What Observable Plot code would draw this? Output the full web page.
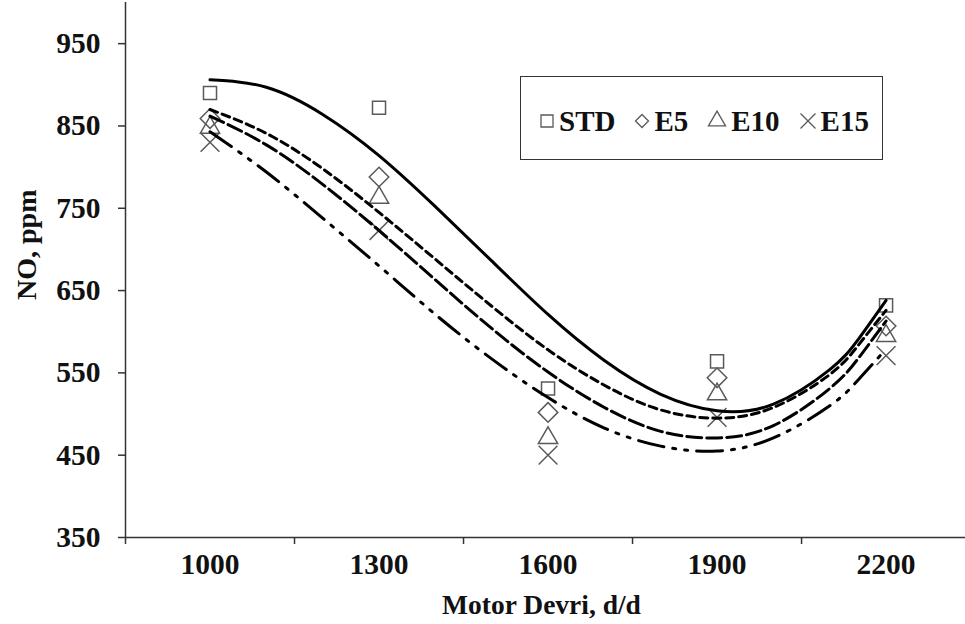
<!DOCTYPE html>
<html>
<head>
<meta charset="utf-8">
<script src="https://cdn.jsdelivr.net/npm/d3@7"></script>
<script src="https://cdn.jsdelivr.net/npm/@observablehq/plot@0.6"></script>
<style>
  html, body { margin: 0; padding: 0; background: #fff; }
  #wrap { position: relative; width: 965px; height: 624px; overflow: hidden;
          font-family: "Liberation Serif", "Times New Roman", serif; font-weight: bold; }
  #legend { position: absolute; left: 520px; top: 76px; width: 363px; height: 84px;
            box-sizing: border-box; border: 1.5px solid #333; background: #fff;
            display: flex; align-items: center; padding: 6px 0 0 19px; }
  .item { display: flex; align-items: center; margin-right: 20px; }
  .item svg { display: block; margin-right: 5px; overflow: visible; }
  .item span { font-size: 29px; line-height: 1; color: #111; }
</style>
</head>
<body>
<div id="wrap"><div id="chart"></div><div id="legend"></div></div>
<script>
// Measured points (NO, ppm) at each engine speed
const rpm = [1000, 1300, 1600, 1900, 2200];
const STD = [890, 872, 531, 564, 632];
const E5  = [859, 788, 502, 544, 607];
const E10 = [848, 763, 471, 524, 595];
const E15 = [830, 723, 450, 496, 571];

// Trend lines
const fitRpm = [1000, 1100, 1200, 1300, 1400, 1500, 1600, 1700, 1800, 1900, 2000, 2100, 2150, 2200];
const fitSTD = [906, 897, 864, 814, 752, 686, 621, 565, 524, 504, 512, 554, 590, 638];
const fitE5  = [870, 841, 798, 745, 688, 631, 578, 535, 505, 495, 508, 548, 583, 626];
const fitE10 = [862, 827, 779, 723, 663, 604, 551, 508, 479, 471, 486, 531, 567, 613];
const fitE15 = [843, 794, 738, 680, 621, 567, 520, 483, 461, 455, 471, 510, 541, 579];

const seriesNames = ["STD", "E5", "E10", "E15"];
const yTicks = [350, 450, 550, 650, 750, 850, 950];
const xBoundaryTicks = [850, 1150, 1450, 1750, 2050];

const measured = [STD, E5, E10, E15];
const fits = [fitSTD, fitE5, fitE10, fitE15];

const symbols = ["square2", "diamond2", "triangle2", "times"];
const symR = [8.3, 8.8, 9.2, 8.6];
const dashes = [null, "8,5", "15,5", "26,9,3,9,3,9"];
const lineW = [3, 3, 3, 3];

const pointRows = seriesNames.map((s, i) => rpm.map((r, j) => ({series: s, rpm: r, no: measured[i][j]})));
const fitRows = seriesNames.map((s, i) => fitRpm.map((r, j) => ({series: s, rpm: r, no: fits[i][j]})));

const markerColor = "#5a5a5a";
const axisColor = "#333";

const marks = [];
pointRows.forEach((rows, i) => {
  marks.push(Plot.dot(rows, {x: "rpm", y: "no", symbol: symbols[i], r: symR[i],
    stroke: markerColor, strokeWidth: 1.5, fill: "none"}));
});
fitRows.forEach((rows, i) => {
  marks.push(Plot.line(rows, {x: "rpm", y: "no", curve: "natural", stroke: "#000",
    strokeWidth: lineW[i], strokeDasharray: dashes[i] || undefined}));
});

const chart = Plot.plot({
  width: 965,
  height: 624,
  marginLeft: 125,
  marginRight: 0,
  marginTop: 2,
  marginBottom: 87,
  style: {fontFamily: '"Liberation Serif", "Times New Roman", serif', fontSize: "28px", fontWeight: "bold", background: "#fff", color: "#111"},
  x: {domain: [850, 2341]},
  y: {domain: [350, 1000]},
  marks: [
    Plot.axisY({ticks: yTicks, tickSize: 7, tickPadding: 18, fontSize: 29.5, fontWeight: "bold",
      stroke: axisColor, strokeWidth: 1.5, fill: "#111", label: null, tickFormat: d => String(d)}),
    Plot.axisX({ticks: xBoundaryTicks, tickSize: 7, tickFormat: () => "", label: null,
      stroke: axisColor, strokeWidth: 1.5}),
    Plot.axisX({ticks: rpm, tickSize: 0, tickPadding: 16, fontSize: 29.5, fontWeight: "bold",
      fill: "#111", label: null, tickFormat: d => String(d)}),
    Plot.ruleX([850], {stroke: axisColor, strokeWidth: 1.5}),
    Plot.ruleY([350], {stroke: axisColor, strokeWidth: 1.5}),
    ...marks,
    Plot.text(["Motor Devri, d/d"], {text: d => d, frameAnchor: "bottom", dx: -4, dy: 68,
      fontSize: 27.5, fontWeight: "bold", fill: "#111", lineAnchor: "middle"}),
    Plot.text(["NO, ppm"], {text: d => d, frameAnchor: "left", rotate: -90, dx: -98, dy: 30,
      fontSize: 28, fontWeight: "bold", fill: "#111", lineAnchor: "middle"})
  ]
});
document.getElementById("chart").appendChild(chart);

// Legend inside the plot area
const legend = d3.select("#legend");
const legendSym = [10.8, 8.3, 11.5, 9.7];
const legendW = [14, 14, 18, 16];
const symMap = {square2: d3.symbolSquare2, diamond2: d3.symbolDiamond2, triangle2: d3.symbolTriangle2, times: d3.symbolTimes};
seriesNames.forEach((s, i) => {
  const item = legend.append("div").attr("class", "item");
  const size = 20, w = legendW[i];
  const svg = item.append("svg").attr("width", w).attr("height", size)
    .attr("viewBox", `${-w/2} ${-size/2} ${w} ${size}`);
  const r = legendSym[i];
  svg.append("path")
    .attr("d", d3.symbol(symMap[symbols[i]], Math.PI * r * r / 2)())
    .attr("fill", "none").attr("stroke", markerColor).attr("stroke-width", 1.3);
  item.append("span").text(s);
});
</script>
</body>
</html>
